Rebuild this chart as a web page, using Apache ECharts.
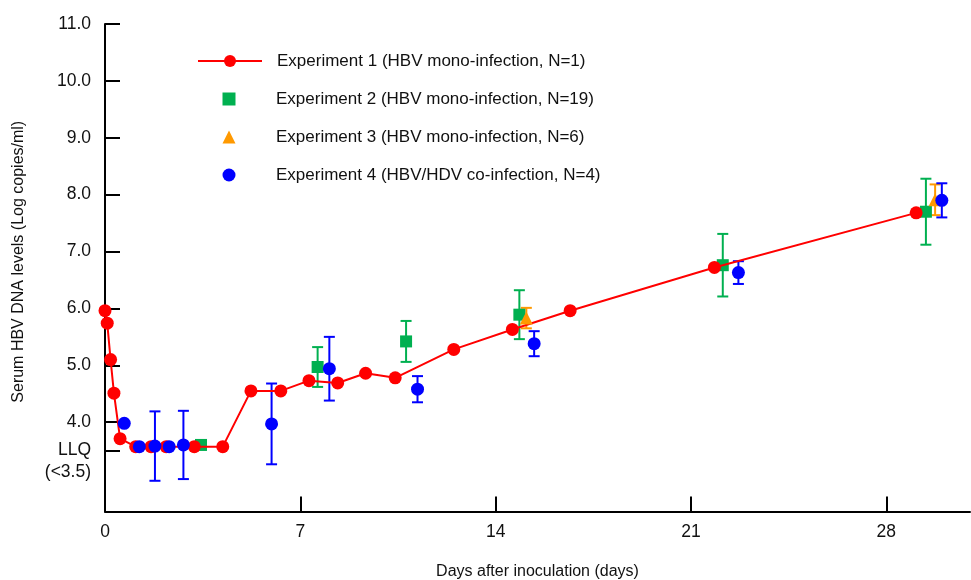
<!DOCTYPE html>
<html>
<head>
<meta charset="utf-8">
<script src="https://cdn.jsdelivr.net/npm/echarts@6/dist/echarts.min.js"></script>
<style>html,body{margin:0;padding:0;background:#fff}#c{width:971px;height:580px}</style>
</head>
<body>
<div id="c"></div>
<script>
// ---- data (days after inoculation, log copies/ml) ----
const seriesNames = [
  'Experiment 1 (HBV mono-infection, N=1)',
  'Experiment 2 (HBV mono-infection, N=19)',
  'Experiment 3 (HBV mono-infection, N=6)',
  'Experiment 4 (HBV/HDV co-infection, N=4)'
];
const exp1Days = [0, 0.08, 0.2, 0.32, 0.54, 1.1, 1.65, 2.19, 3.2, 4.22, 5.23, 6.3, 7.31, 8.34, 9.34, 10.4, 12.5, 14.6, 16.67, 21.84, 29.07];
const exp1Vals = [5.96, 5.74, 5.1, 4.51, 3.71, 3.57, 3.57, 3.57, 3.57, 3.57, 4.55, 4.55, 4.73, 4.69, 4.86, 4.78, 5.28, 5.63, 5.96, 6.72, 7.68];

const exp2Days = [3.44, 7.62, 10.79, 14.85, 22.14, 29.42];
const exp2Vals = [3.60, 4.97, 5.42, 5.89, 6.76, 7.70];
const exp2Errs = [0, 0.35, 0.36, 0.43, 0.55, 0.58];

const exp3Days = [15.1, 29.75];
const exp3Vals = [5.83, 7.91];
const exp3Errs = [0.18, 0.27];

const exp4Days = [0.69, 1.23, 1.79, 2.3, 2.81, 5.97, 8.04, 11.2, 15.38, 22.7, 29.99];
const exp4Vals = [3.98, 3.57, 3.58, 3.57, 3.60, 3.97, 4.94, 4.58, 5.38, 6.63, 7.90];
const exp4Errs = [0, 0, 0.61, 0, 0.6, 0.71, 0.56, 0.23, 0.22, 0.2, 0.3];

const xTicks = [0, 7, 14, 21, 28];
const yTicks = [3.5, 4, 5, 6, 7, 8, 9, 10, 11];
const yLabelTicks = [4, 5, 6, 7, 8, 9, 10, 11];
const llqTicks = [3.5];
const llqLabel = '\nLLQ\n(<3.5)';

// ---- styling ----
const RED = '#FF0000', GREEN = '#00B050', ORANGE = '#FF9900', BLUE = '#0000FF';
const FONT = "'Liberation Sans', Arial, sans-serif";
const TXT = '#111';
const Y_MIN = 2.43, Y_MAX = 11;

function pts(days, vals) { return days.map((d, i) => [d, vals[i]]); }

function errorSeries(name, color, days, vals, errs) {
  const data = [];
  days.forEach((d, i) => { if (errs[i] > 0) data.push([d, vals[i] - errs[i], vals[i] + errs[i]]); });
  return {
    type: 'custom', name: name, silent: true, z: 1,
    encode: { x: 0, y: [1, 2] },
    data: data,
    renderItem: function (params, api) {
      const x = api.value(0);
      const lo = api.coord([x, api.value(1)]);
      const hi = api.coord([x, api.value(2)]);
      const w = 5.5;
      const st = { stroke: color, lineWidth: 2 };
      return {
        type: 'group',
        children: [
          { type: 'line', shape: { x1: lo[0], y1: lo[1], x2: hi[0], y2: hi[1] }, style: st },
          { type: 'line', shape: { x1: lo[0] - w, y1: lo[1], x2: lo[0] + w, y2: lo[1] }, style: st },
          { type: 'line', shape: { x1: hi[0] - w, y1: hi[1], x2: hi[0] + w, y2: hi[1] }, style: st }
        ]
      };
    }
  };
}

const legendText = { fontFamily: FONT, fontSize: 17, color: TXT, lineHeight: 20 };

const chart = echarts.init(document.getElementById('c'), null, { renderer: 'canvas' });
chart.setOption({
  animation: false,
  backgroundColor: '#fff',
  textStyle: { fontFamily: FONT, color: TXT },
  grid: { left: 105, right: 1, top: 24, bottom: 68.5, outerBoundsMode: 'none', containLabel: false },
  legend: [
    {
      data: [seriesNames[0]],
      orient: 'vertical', left: 197, top: 51, padding: 0,
      itemWidth: 64, itemHeight: 15,
      textStyle: Object.assign({ padding: [0, 0, 0, 10] }, legendText),
      selectedMode: false
    },
    {
      data: seriesNames.slice(1),
      orient: 'vertical', left: 222.5, top: 89, padding: 0,
      itemWidth: 13, itemHeight: 13, itemGap: 18,
      textStyle: Object.assign({ padding: [0, 0, 0, 35.5] }, legendText),
      selectedMode: false
    }
  ],
  xAxis: {
    type: 'value', min: 0, max: 31,
    name: 'Days after inoculation (days)',
    nameLocation: 'middle', nameGap: 52,
    nameTextStyle: { fontFamily: FONT, fontSize: 16, color: TXT },
    axisLine: { show: true, lineStyle: { color: '#000', width: 2 } },
    axisTick: { show: true, inside: true, length: 15, lineStyle: { color: '#000', width: 2 }, customValues: xTicks },
    axisLabel: { fontFamily: FONT, fontSize: 17.5, color: TXT, margin: 12, customValues: xTicks },
    splitLine: { show: false }
  },
  yAxis: [
    {
      type: 'value', min: Y_MIN, max: Y_MAX,
      name: 'Serum HBV DNA levels (Log copies/ml)',
      nameLocation: 'middle', nameGap: 78,
      nameTextStyle: { fontFamily: FONT, fontSize: 16, color: TXT, padding: [0, 0, 0, 12] },
      axisLine: { show: true, lineStyle: { color: '#000', width: 2 } },
      axisTick: { show: true, inside: true, length: 15, lineStyle: { color: '#000', width: 2 }, customValues: yTicks },
      axisLabel: {
        fontFamily: FONT, fontSize: 17.5, color: TXT, margin: 14, customValues: yLabelTicks,
        formatter: function (v) { return v.toFixed(1); }
      },
      splitLine: { show: false }
    },
    {
      type: 'value', min: Y_MIN, max: Y_MAX, position: 'left',
      axisLine: { show: false }, axisTick: { show: false }, splitLine: { show: false },
      axisLabel: {
        fontFamily: FONT, fontSize: 17.5, color: TXT, margin: 14, lineHeight: 22, customValues: llqTicks,
        formatter: function () { return llqLabel; }
      }
    }
  ],
  series: [
    errorSeries('err2', GREEN, exp2Days, exp2Vals, exp2Errs),
    errorSeries('err3', ORANGE, exp3Days, exp3Vals, exp3Errs),
    errorSeries('err4', BLUE, exp4Days, exp4Vals, exp4Errs),
    {
      name: seriesNames[1], type: 'scatter', symbol: 'rect', symbolSize: 12, z: 3,
      itemStyle: { color: GREEN, opacity: 1 }, data: pts(exp2Days, exp2Vals)
    },
    {
      name: seriesNames[0], type: 'line', symbol: 'circle', symbolSize: 13, showAllSymbol: true, z: 4,
      lineStyle: { color: RED, width: 2 }, itemStyle: { color: RED, opacity: 1 },
      data: pts(exp1Days, exp1Vals)
    },
    {
      name: seriesNames[2], type: 'scatter', symbol: 'triangle', symbolSize: 13, z: 5,
      itemStyle: { color: ORANGE, opacity: 1 }, data: pts(exp3Days, exp3Vals)
    },
    {
      name: seriesNames[3], type: 'scatter', symbol: 'circle', symbolSize: 13, z: 6,
      itemStyle: { color: BLUE, opacity: 1 }, data: pts(exp4Days, exp4Vals)
    }
  ]
});
</script>
</body>
</html>
